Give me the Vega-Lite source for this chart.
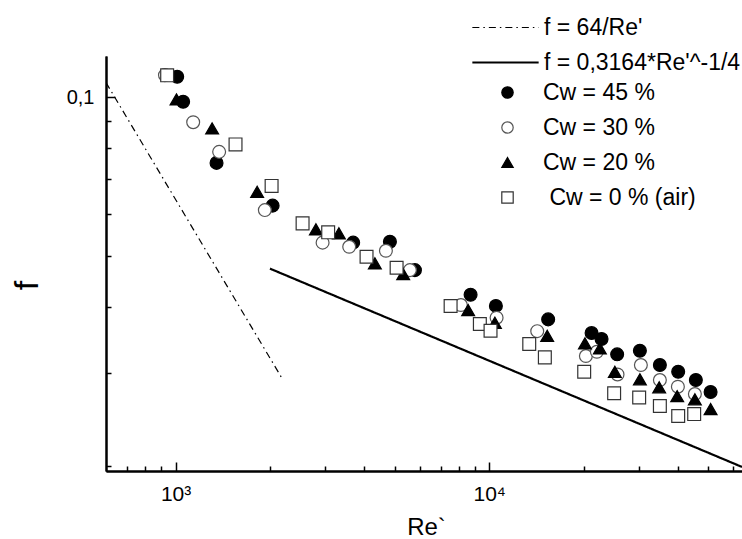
{
  "$schema": "https://vega.github.io/schema/vega-lite/v6.json",
  "width": 636,
  "height": 415,
  "autosize": {"type": "none"},
  "padding": {"left": 106, "top": 56, "right": 0, "bottom": 68},
  "background": "white",
  "config": {
    "view": {"stroke": null},
    "font": "Liberation Sans",
    "axis": {"domainColor": "black", "domainWidth": 2, "tickColor": "black", "tickWidth": 1.5, "labelFont": "Liberation Sans", "labelColor": "black", "titleFont": "Liberation Sans", "titleColor": "black", "grid": false, "titleFontWeight": "normal"},
    "legend": {"labelFont": "Liberation Sans", "labelFontSize": 23, "labelColor": "black", "labelLimit": 0, "padding": 0, "rowPadding": 11, "titleFontSize": 0}
  },
  "resolve": {"axis": {"x": "independent", "y": "independent"}},
  "layer": [
    {
      "data": {"values": [
        {"eq": "f = 64/Re'", "Re": 600, "f": 0.10667},
        {"eq": "f = 64/Re'", "Re": 2200, "f": 0.02909},
        {"eq": "f = 0,3164*Re'^-1/4", "Re": 2000, "f": 0.04731},
        {"eq": "f = 0,3164*Re'^-1/4", "Re": 64000, "f": 0.01989}
      ]},
      "mark": {"type": "line", "color": "black", "clip": true},
      "encoding": {
        "x": {"field": "Re", "type": "quantitative", "scale": {"type": "log", "domain": [600, 64000], "nice": false},
          "axis": {"orient": "bottom", "values": [700, 800, 900, 2000, 3000, 4000, 5000, 6000, 7000, 8000, 9000, 20000, 30000, 40000, 50000, 60000], "tickSize": -5, "labels": false, "title": null}},
        "y": {"field": "f", "type": "quantitative", "scale": {"type": "log", "domain": [0.01954, 0.1198], "nice": false},
          "axis": {"orient": "left", "values": [0.02, 0.03, 0.04, 0.05, 0.06, 0.07, 0.08, 0.09], "tickSize": -5, "labels": false, "title": null}},
        "strokeDash": {"field": "eq", "type": "nominal",
          "scale": {"domain": ["f = 64/Re'", "f = 0,3164*Re'^-1/4"], "range": [[7, 4, 1.5, 4], [1, 0]]},
          "legend": {"title": null, "orient": "none", "legendX": 388, "legendY": -40, "symbolType": "M-5.1,0H5.1", "symbolSize": 169, "symbolStrokeWidth": 1.6, "symbolStrokeColor": "black", "labelOffset": 27}},
        "strokeWidth": {"field": "eq", "type": "nominal",
          "scale": {"domain": ["f = 64/Re'", "f = 0,3164*Re'^-1/4"], "range": [1.2, 2.2]}, "legend": null}
      }
    },
    {
      "data": {"values": [
        {"series": "Cw = 45 %", "Re": 1012, "f": 0.1094},
        {"series": "Cw = 45 %", "Re": 1057, "f": 0.0981},
        {"series": "Cw = 45 %", "Re": 1351, "f": 0.0751},
        {"series": "Cw = 45 %", "Re": 2039, "f": 0.0623},
        {"series": "Cw = 45 %", "Re": 3684, "f": 0.0530},
        {"series": "Cw = 45 %", "Re": 4825, "f": 0.0532},
        {"series": "Cw = 45 %", "Re": 5797, "f": 0.0470},
        {"series": "Cw = 45 %", "Re": 8724, "f": 0.0422},
        {"series": "Cw = 45 %", "Re": 10505, "f": 0.0402},
        {"series": "Cw = 45 %", "Re": 15420, "f": 0.0379},
        {"series": "Cw = 45 %", "Re": 21210, "f": 0.0357},
        {"series": "Cw = 45 %", "Re": 22820, "f": 0.0348},
        {"series": "Cw = 45 %", "Re": 25590, "f": 0.03253},
        {"series": "Cw = 45 %", "Re": 30240, "f": 0.03305},
        {"series": "Cw = 45 %", "Re": 35020, "f": 0.03105},
        {"series": "Cw = 45 %", "Re": 40060, "f": 0.03015},
        {"series": "Cw = 45 %", "Re": 45610, "f": 0.02908},
        {"series": "Cw = 45 %", "Re": 50820, "f": 0.02759},
        {"series": "Cw = 30 %", "Re": 925, "f": 0.1102},
        {"series": "Cw = 30 %", "Re": 1138, "f": 0.0897},
        {"series": "Cw = 30 %", "Re": 1377, "f": 0.0788},
        {"series": "Cw = 30 %", "Re": 1926, "f": 0.0611},
        {"series": "Cw = 30 %", "Re": 2943, "f": 0.0530},
        {"series": "Cw = 30 %", "Re": 3578, "f": 0.05205},
        {"series": "Cw = 30 %", "Re": 4685, "f": 0.05115},
        {"series": "Cw = 30 %", "Re": 5587, "f": 0.0470},
        {"series": "Cw = 30 %", "Re": 8125, "f": 0.04035},
        {"series": "Cw = 30 %", "Re": 10560, "f": 0.03818},
        {"series": "Cw = 30 %", "Re": 14230, "f": 0.0360},
        {"series": "Cw = 30 %", "Re": 20340, "f": 0.03229},
        {"series": "Cw = 30 %", "Re": 22050, "f": 0.0329},
        {"series": "Cw = 30 %", "Re": 25660, "f": 0.02979},
        {"series": "Cw = 30 %", "Re": 30460, "f": 0.03105},
        {"series": "Cw = 30 %", "Re": 35020, "f": 0.02908},
        {"series": "Cw = 30 %", "Re": 39970, "f": 0.02824},
        {"series": "Cw = 30 %", "Re": 45280, "f": 0.02735},
        {"series": "Cw = 20 %", "Re": 1007, "f": 0.0991},
        {"series": "Cw = 20 %", "Re": 1308, "f": 0.0873},
        {"series": "Cw = 20 %", "Re": 1820, "f": 0.0662},
        {"series": "Cw = 20 %", "Re": 2802, "f": 0.05617},
        {"series": "Cw = 20 %", "Re": 3317, "f": 0.05519},
        {"series": "Cw = 20 %", "Re": 4320, "f": 0.04842},
        {"series": "Cw = 20 %", "Re": 5319, "f": 0.0462},
        {"series": "Cw = 20 %", "Re": 8570, "f": 0.03948},
        {"series": "Cw = 20 %", "Re": 10430, "f": 0.03735},
        {"series": "Cw = 20 %", "Re": 15310, "f": 0.03528},
        {"series": "Cw = 20 %", "Re": 20200, "f": 0.03413},
        {"series": "Cw = 20 %", "Re": 22540, "f": 0.03339},
        {"series": "Cw = 20 %", "Re": 25160, "f": 0.03015},
        {"series": "Cw = 20 %", "Re": 30240, "f": 0.02917},
        {"series": "Cw = 20 %", "Re": 34840, "f": 0.02817},
        {"series": "Cw = 20 %", "Re": 39770, "f": 0.0271},
        {"series": "Cw = 20 %", "Re": 45280, "f": 0.02673},
        {"series": "Cw = 20 %", "Re": 50820, "f": 0.02562},
        {"series": "\u200b\u00a0Cw = 0 % (air)", "Re": 940, "f": 0.1101},
        {"series": "\u200b\u00a0Cw = 0 % (air)", "Re": 1553, "f": 0.0814},
        {"series": "\u200b\u00a0Cw = 0 % (air)", "Re": 2024, "f": 0.0679},
        {"series": "\u200b\u00a0Cw = 0 % (air)", "Re": 2541, "f": 0.05766},
        {"series": "\u200b\u00a0Cw = 0 % (air)", "Re": 3066, "f": 0.05544},
        {"series": "\u200b\u00a0Cw = 0 % (air)", "Re": 4064, "f": 0.04983},
        {"series": "\u200b\u00a0Cw = 0 % (air)", "Re": 5068, "f": 0.0475},
        {"series": "\u200b\u00a0Cw = 0 % (air)", "Re": 7534, "f": 0.04018},
        {"series": "\u200b\u00a0Cw = 0 % (air)", "Re": 9339, "f": 0.03714},
        {"series": "\u200b\u00a0Cw = 0 % (air)", "Re": 10100, "f": 0.03606},
        {"series": "\u200b\u00a0Cw = 0 % (air)", "Re": 13420, "f": 0.03403},
        {"series": "\u200b\u00a0Cw = 0 % (air)", "Re": 15050, "f": 0.0321},
        {"series": "\u200b\u00a0Cw = 0 % (air)", "Re": 20090, "f": 0.03015},
        {"series": "\u200b\u00a0Cw = 0 % (air)", "Re": 25030, "f": 0.02744},
        {"series": "\u200b\u00a0Cw = 0 % (air)", "Re": 30080, "f": 0.02694},
        {"series": "\u200b\u00a0Cw = 0 % (air)", "Re": 35020, "f": 0.02596},
        {"series": "\u200b\u00a0Cw = 0 % (air)", "Re": 40060, "f": 0.02485},
        {"series": "\u200b\u00a0Cw = 0 % (air)", "Re": 45050, "f": 0.02506}
      ]},
      "mark": {"type": "point", "opacity": 1, "strokeWidth": 1.2, "size": 165},
      "encoding": {
        "x": {"field": "Re", "type": "quantitative", "scale": {"type": "log", "domain": [600, 64000], "nice": false},
          "axis": {"orient": "bottom", "values": [1000, 10000], "tickSize": -9, "labelExpr": "datum.value < 5000 ? '10³' : '10⁴'", "labelFontSize": 21, "labelBaseline": "alphabetic", "labelPadding": 38, "labelFlush": false, "title": "Re`", "titleFontSize": 24, "titleBaseline": "alphabetic", "titleX": 320, "titleY": 63}},
        "y": {"field": "f", "type": "quantitative", "scale": {"type": "log", "domain": [0.01954, 0.1198], "nice": false},
          "axis": {"orient": "left", "values": [0.1], "tickSize": -9, "labelExpr": "'0,1'", "labelFontSize": 20, "labelPadding": 21, "title": "f", "titleFontSize": 34, "titleAngle": -90, "titleAlign": "center", "titleBaseline": "middle", "titleX": -79, "titleY": 229}},
        "shape": {"field": "series", "type": "nominal",
          "scale": {"domain": ["Cw = 45 %", "Cw = 30 %", "Cw = 20 %", "\u200b\u00a0Cw = 0 % (air)"], "range": ["circle", "circle", "triangle-up", "square"]},
          "legend": {"title": null, "orient": "none", "legendX": 390, "legendY": 25, "symbolSize": 130, "symbolStrokeWidth": 1.2, "labelOffset": 24}},
        "fill": {"field": "series", "type": "nominal",
          "scale": {"domain": ["Cw = 45 %", "Cw = 30 %", "Cw = 20 %", "\u200b\u00a0Cw = 0 % (air)"], "range": ["black", "white", "black", "white"]},
          "legend": {"title": null, "orient": "none", "legendX": 390, "legendY": 25, "symbolSize": 130, "symbolStrokeWidth": 1.2, "labelOffset": 24}},
        "stroke": {"field": "series", "type": "nominal",
          "scale": {"domain": ["Cw = 45 %", "Cw = 30 %", "Cw = 20 %", "\u200b\u00a0Cw = 0 % (air)"], "range": ["black", "#555555", "black", "#333333"]},
          "legend": {"title": null, "orient": "none", "legendX": 390, "legendY": 25, "symbolSize": 130, "symbolStrokeWidth": 1.2, "labelOffset": 24}}
      }
    }
  ]
}
